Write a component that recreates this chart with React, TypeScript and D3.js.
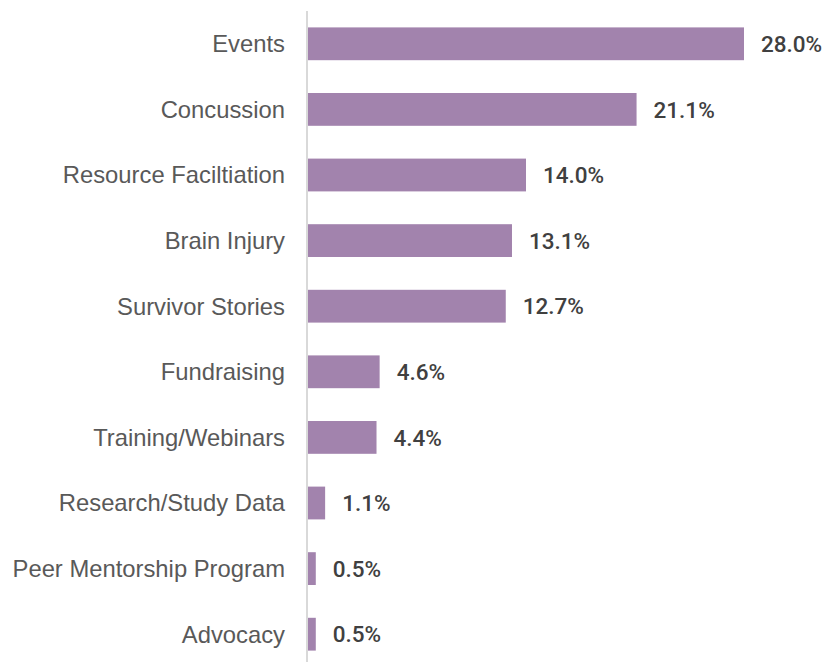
import React from "react";
import * as d3 from "d3";

const categories = [
  "Events",
  "Concussion",
  "Resource Faciltiation",
  "Brain Injury",
  "Survivor Stories",
  "Fundraising",
  "Training/Webinars",
  "Research/Study Data",
  "Peer Mentorship Program",
  "Advocacy",
];
const values = [28.0, 21.1, 14.0, 13.1, 12.7, 4.6, 4.4, 1.1, 0.5, 0.5];

const W = 829;
const H = 662;
const axisX = 307;

export default function App() {
  const x = d3.scaleLinear().domain([0, 28]).range([axisX + 1, 744]);
  const y = d3
    .scaleBand<string>()
    .domain(categories)
    .range([11, 667])
    .paddingInner(0.5)
    .paddingOuter(0.25);
  return (
    <svg
      width={W}
      height={H}
      style={{ position: "absolute", left: 0, top: 0, background: "#fff" }}
    >
      <line x1={axisX} x2={axisX} y1={11} y2={H} stroke="#d9d9d9" strokeWidth={2} />
      {categories.map((c, i) => {
        const yc = (y(c) as number) + y.bandwidth() / 2;
        return (
          <g key={c}>
            <rect
              x={x(0)}
              y={y(c)}
              width={x(values[i]) - x(0)}
              height={y.bandwidth()}
              fill="#a283ad"
            />
            <text
              x={285}
              y={yc}
              textAnchor="end"
              dy="0.35em"
              fontFamily="'Liberation Sans', Arial, sans-serif"
              fontSize={23.8}
              fill="#595959"
            >
              {c}
            </text>
            <text
              x={x(values[i]) + 17}
              y={yc}
              dy="0.36em"
              fontFamily="Roboto, sans-serif"
              fontWeight={500}
              fontSize={22.5}
              fill="#404040"
            >
              {d3.format(".1f")(values[i]) + "%"}
            </text>
          </g>
        );
      })}
    </svg>
  );
}
